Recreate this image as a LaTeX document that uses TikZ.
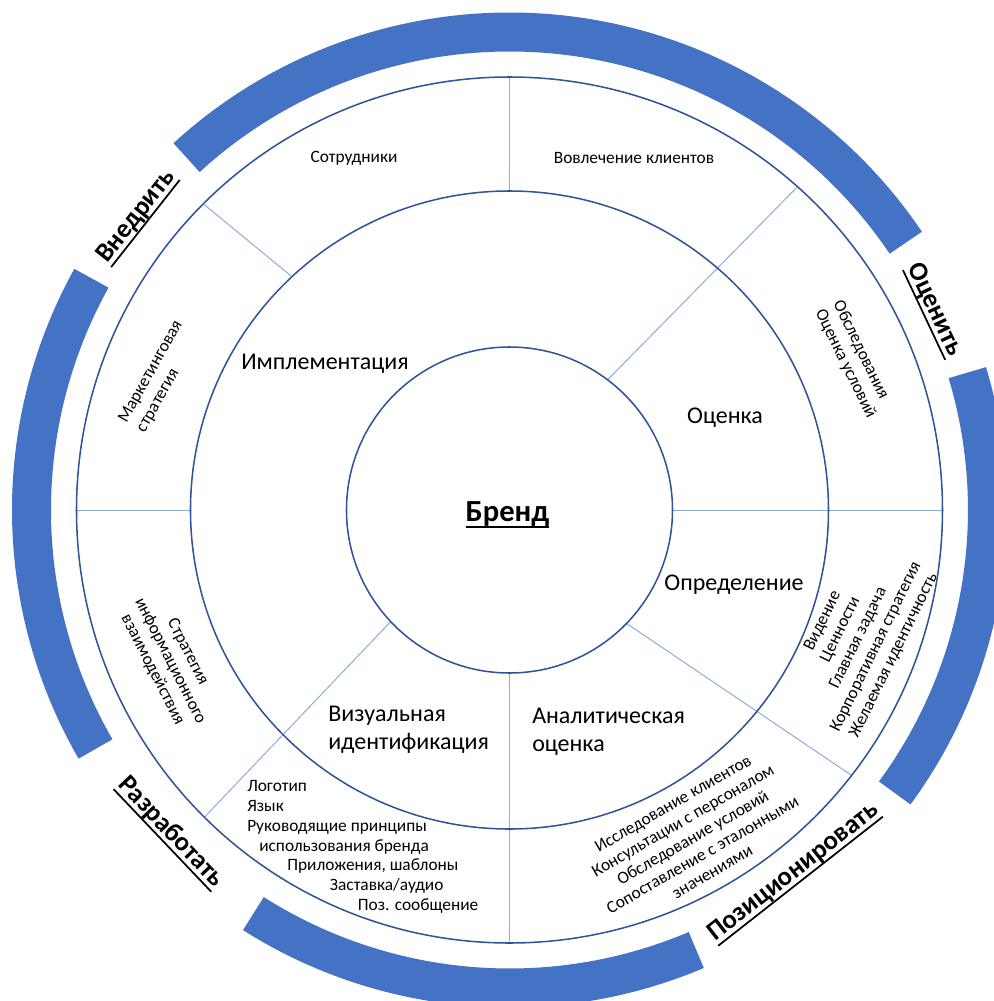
\documentclass[tikz,border=0pt]{standalone}
\usepackage{fontspec}
\setmainfont{Carlito}
\definecolor{ringblue}{HTML}{2F5597}
\definecolor{divblue}{HTML}{8FAADC}
\definecolor{bandblue}{HTML}{4472C4}
% underlined heading with a heavier rule
\newcommand{\heavyul}[1]{\setbox0=\hbox{#1}\rlap{\rule[-0.22em]{\wd0}{0.065em}}\box0}
\begin{document}
\begin{tikzpicture}[x=0.75pt,y=0.75pt,
  ring/.style={draw=ringblue,line width=1.15pt},
  divider/.style={draw=divblue,line width=0.75pt},
  band/.style={draw=bandblue,line width=29.25pt},
  txt/.style={inner sep=0pt,text=black},
  phase/.style={txt,font=\fontsize{20}{24}\selectfont\bfseries},
  core/.style={txt,font=\fontsize{18}{21}\selectfont},
  item/.style={txt,font=\fontsize{13}{14.8}\selectfont},
]
\useasboundingbox (-509.5,-491) rectangle (484.5,510);

% outer phase bands
\draw[band] (34:478) arc[start angle=34,end angle=132.5,radius=478];
\draw[band] (151:478) arc[start angle=151,end angle=210,radius=478];
\draw[band] (237.6:478) arc[start angle=237.6,end angle=293,radius=478];
\draw[band] (-36.3:478) arc[start angle=-36.3,end angle=16.7,radius=478];

% phase labels in the gaps between bands
\node[phase,rotate=51.8] (vnedrit) at (141.8:474) {\heavyul{Внедрить}};
\node[phase,rotate=-64.8] (ocenit) at (25.2:469) {\heavyul{Оценить}};
\node[phase,rotate=38.1] (pozic) at (-51.9:461) {\heavyul{Позиционировать}};
\node[phase,rotate=-46.4] (razrab) at (223.6:468) {\heavyul{Разработать}};

% sector dividers
\draw[divider] (90:319) -- (90:433);
\draw[divider] (133:319) -- (135:433);
\draw[divider] (180:319) -- (180:433);
\draw[divider] (223.2:163) -- (225.2:433);
\draw[divider] (270:163) -- (270:433);
\draw[divider] (-44.1:163) -- (-37.8:433);
\draw[divider] (0:163) -- (0:433);
\draw[divider] (53:163) -- (48.3:433);

% rings
\draw[ring] (0,0) circle[radius=163];
\draw[ring] (0,0) circle[radius=319];
\draw[ring] (0,0) circle[radius=433];

% centre
\node[txt,font=\fontsize{23}{27}\selectfont\bfseries] (brand) at (-2,-5) {\heavyul{Бренд}};

% inner ring
\node[core] (impl) at (-184.5,146) {Имплементация};
\node[core] (ocenka) at (215.5,92) {Оценка};
\node[core] (opred) at (224.5,-75) {Определение};
\node[core,anchor=west,align=left] (anal) at (22.5,-222) {Аналитическая\\оценка};
\node[core,anchor=west,align=left] (vis) at (-181.5,-219.5) {Визуальная\\идентификация};

% outer ring
\node[item] (staff) at (-155.5,352) {Сотрудники};
\node[item] (clients) at (124.5,352) {Вовлечение клиентов};
\node[item,rotate=60.6,align=left,font=\fontsize{13}{15.5}\selectfont] (market) at (-349.6,133.3) {Маркетинговая\\стратегия};
\node[item,rotate=-63,align=center] (comm) at (-339.5,-151) {Стратегия\\информационного\\взаимодействия};
\node[item,rotate=-64,align=left] (survey) at (344.8,150.5) {Обследования\\Оценка условий};
\node[item,rotate=64,align=center] (vision) at (348.9,-128.3) {Видение\\Ценности\\Главная задача\\Корпоративная стратегия\\Желаемая идентичность};
\node[item,rotate=30,align=center] (research) at (183.2,-327.7) {Исследование клиентов\\Консультации с персоналом\\Обследование условий\\Сопоставление с эталонными\\значениями};
\node[item,anchor=west,align=left] (logo) at (-262.5,-337) {Логотип\\Язык\\Руководящие принципы\\\hspace*{9pt}использования бренда\\\hspace*{30pt}Приложения, шаблоны\\\hspace*{62pt}Заставка/аудио\\\hspace*{83pt}Поз. сообщение};
\end{tikzpicture}
\end{document}
